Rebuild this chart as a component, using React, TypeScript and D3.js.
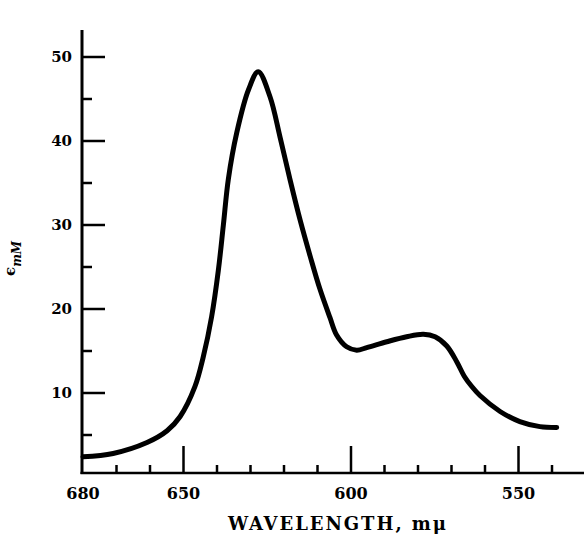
import React from "react";
import * as d3 from "d3";

const wavelengths = [680, 671, 660.9, 654.9, 651, 646.6, 644.1, 641.6, 639.6, 638.1, 636.6, 634.1, 630.6, 627.7, 624.2, 621.2, 618.2, 615.2, 612.2, 609.3, 606.3, 604.3, 601.3, 598.3, 595.3, 589.3, 583.4, 578.4, 574.9, 571.4, 568.4, 566.2, 564, 561.5, 555.5, 549.6, 543.6, 538.6];
const epsilon = [2.4, 2.8, 4.1, 5.5, 7.2, 10.75, 14.3, 19.1, 24.6, 30.0, 35.5, 41.0, 46.1, 48.25, 45.3, 40.5, 35.4, 30.6, 26.3, 22.4, 19.0, 16.9, 15.5, 15.1, 15.4, 16.1, 16.7, 17.0, 16.7, 15.6, 13.7, 12.0, 10.8, 9.7, 7.8, 6.6, 6.0, 5.9];

const xMajorTicks = [650, 600, 550];
const xMinorTicks = [670, 660, 640, 630, 620, 610, 590, 580, 570, 560, 540];
const xTickLabels = [680, 650, 600, 550];
const yMajorTicks = [10, 20, 30, 40, 50];
const yMinorTicks = [5, 15, 25, 35, 45];

export default function App() {
  const x = d3.scaleLinear().domain([680, 530]).range([83, 585.5]);
  const y = d3.scaleLinear().domain([0, 50]).range([477, 57]);
  const axisX = 82;
  const axisY = 473;
  const font = "'DejaVu Serif', serif";

  const pts = wavelengths.map((w, i) => [w, epsilon[i]] as [number, number]);
  const line = d3
    .line<[number, number]>()
    .x((d) => x(d[0]))
    .y((d) => y(d[1]))
    .curve(d3.curveCatmullRom.alpha(0.5));

  return (
    <svg
      width={584}
      height={542}
      style={{ position: "absolute", left: 0, top: 0, background: "#fff" }}
    >
      <rect x={0} y={0} width={584} height={542} fill="#fff" />
      <line x1={axisX} x2={axisX} y1={30} y2={axisY + 1} stroke="#000" strokeWidth={3} />
      <line x1={axisX - 1.5} x2={584} y1={axisY} y2={axisY} stroke="#000" strokeWidth={2.5} />
      {yMajorTicks.map((t) => (
        <g key={"ym" + t}>
          <line x1={axisX} x2={axisX + 23} y1={y(t)} y2={y(t)} stroke="#000" strokeWidth={2.5} />
          <text
            x={72}
            y={y(t)}
            dy="0.36em"
            textAnchor="end"
            fontFamily={font}
            fontWeight="bold"
            fontSize={15}
          >
            {t}
          </text>
        </g>
      ))}
      {yMinorTicks.map((t) => (
        <line key={"yn" + t} x1={axisX} x2={axisX + 10} y1={y(t)} y2={y(t)} stroke="#000" strokeWidth={2.5} />
      ))}
      {xMajorTicks.map((t) => (
        <line key={"xm" + t} x1={x(t)} x2={x(t)} y1={axisY} y2={axisY - 27} stroke="#000" strokeWidth={2.5} />
      ))}
      {xMinorTicks.map((t) => (
        <line key={"xn" + t} x1={x(t)} x2={x(t)} y1={axisY} y2={axisY - 8} stroke="#000" strokeWidth={2.5} />
      ))}
      {xTickLabels.map((t) => (
        <text
          key={"xl" + t}
          x={x(t)}
          y={499}
          textAnchor="middle"
          fontFamily={font}
          fontWeight="bold"
          fontSize={16}
        >
          {t}
        </text>
      ))}
      <text
        x={337}
        y={530}
        textAnchor="middle"
        fontFamily={font}
        fontWeight="bold"
        fontSize={18}
        textLength={218}
        lengthAdjust="spacing"
      >
        WAVELENGTH, mμ
      </text>
      <text
        transform="translate(15,276) rotate(-90)"
        fontFamily={font}
        fontWeight="bold"
        fontSize={15}
      >
        ϵ
        <tspan fontStyle="italic" fontSize={12} dy={6}>
          mM
        </tspan>
      </text>
      <path
        d={line(pts) || ""}
        fill="none"
        stroke="#000"
        strokeWidth={5}
        strokeLinejoin="round"
        strokeLinecap="round"
      />
    </svg>
  );
}
